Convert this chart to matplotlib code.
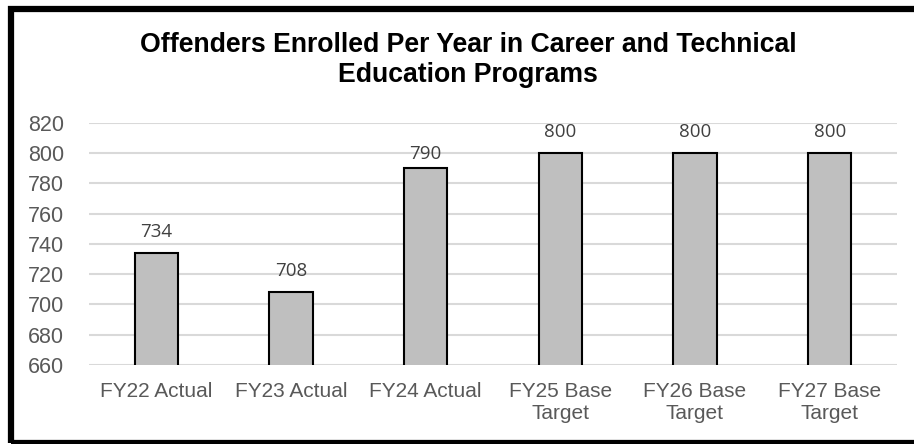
import numpy as np
import matplotlib.pyplot as plt
from matplotlib.patches import Rectangle

# ---------------- data ----------------
categories = ["FY22 Actual", "FY23 Actual", "FY24 Actual",
              "FY25 Base\nTarget", "FY26 Base\nTarget", "FY27 Base\nTarget"]
enrolled = [734, 708, 790, 800, 800, 800]
y_ticks = [660, 680, 700, 720, 740, 760, 780, 800, 820]
# label gap above each bar (points); the FY24 label sits closer in the original
label_gap = [9, 9, 4, 9, 9, 9]

W, H = 914, 444
fig = plt.figure(figsize=(W / 100, H / 100), dpi=100)
fig.patch.set_facecolor("white")

# outer black frame (right side runs off the picture)
fig.add_artist(Rectangle((11 / W, 1 / H), 1.2, 434 / H,
                         transform=fig.transFigure, fill=False,
                         edgecolor="black", lw=4.5, clip_on=False))

ax = fig.add_axes([89 / W, 79 / H, (897 - 89) / W, (321 - 79) / H])
x = np.arange(len(categories))
ax.bar(x, enrolled, width=0.32, color="#BFBFBF", edgecolor="black",
       linewidth=1.5, zorder=3)

for xi, v, g in zip(x, enrolled, label_gap):
    ax.annotate(f"{v}", (xi, v), xytext=(0, g), textcoords="offset points",
                ha="center", va="bottom", fontsize=13.5, color="#404040",
                family="Open Sans")

ax.set_xlim(-0.5, len(categories) - 0.5)
ax.set_ylim(660, 820)
ax.set_yticks(y_ticks)
ax.set_xticks(x)
ax.set_xticklabels(categories, fontsize=15, color="#595959",
                   family="Liberation Sans", linespacing=1.25)
ax.set_yticklabels([str(t) for t in y_ticks], fontsize=15.5, color="#595959",
                   family="Liberation Sans")
ax.tick_params(axis="both", length=0)
ax.tick_params(axis="x", pad=12)
ax.tick_params(axis="y", pad=18)
ax.yaxis.grid(True, color="#D9D9D9", lw=1.5, zorder=0)
ax.set_axisbelow(True)
for s in ax.spines.values():
    s.set_visible(False)

fig.text(468 / W, 1 - 60 / H,
         "Offenders Enrolled Per Year in Career and Technical\nEducation Programs",
         ha="center", va="center", fontsize=19.2, fontweight="bold",
         family="Liberation Sans", color="black", linespacing=1.2)
fig.savefig("out.png", dpi=100)
